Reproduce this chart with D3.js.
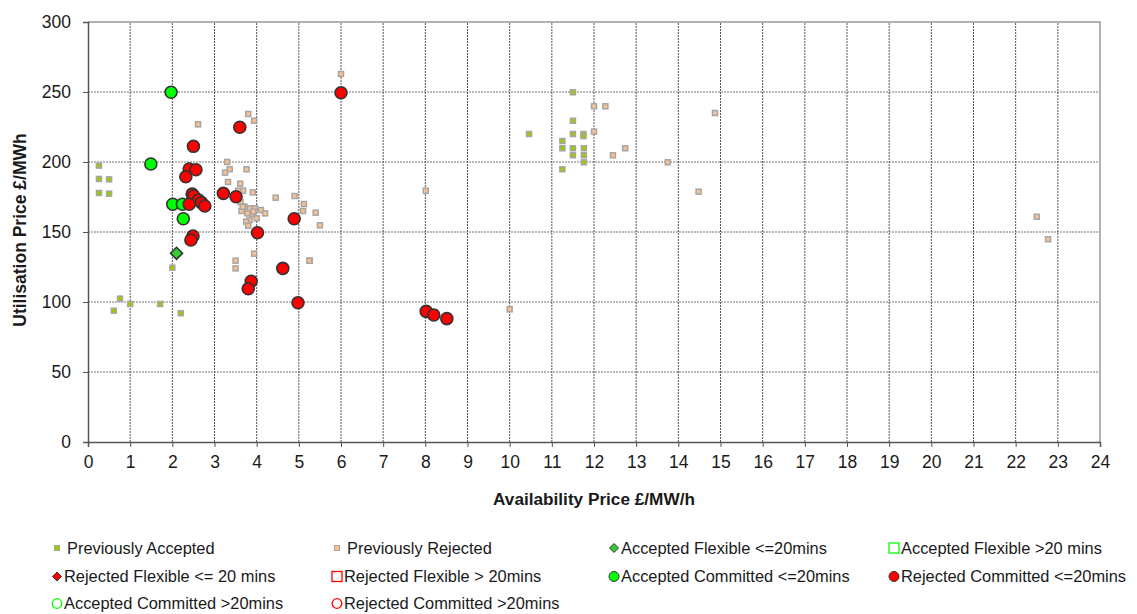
<!DOCTYPE html>
<html><head><meta charset="utf-8">
<script src="https://cdn.jsdelivr.net/npm/d3@7"></script>
<style>body{margin:0;background:#fff}svg{display:block;font-family:"Liberation Sans",Arial,sans-serif}</style>
</head><body><svg id="c" width="1137" height="614"></svg>
<script>
const xTicks = d3.range(0, 25, 1);
const yTicks = [0, 50, 100, 150, 200, 250, 300];
const xTitle = "Availability Price £/MW/h";
const yTitle = "Utilisation Price £/MWh";

const prevAccepted = [
  [0.26,197.4],[0.26,187.9],[0.5,187.6],[0.26,177.9],[0.5,177.4],
  [0.76,102.4],[1.0,98.6],[0.61,93.8],[1.71,98.6],[2.0,124.5],[2.2,92],
  [11.5,249.8],[10.46,220],[11.5,229.5],[11.5,220],[11.75,220],[11.75,218.5],
  [11.25,215],[11.25,209.8],[11.5,209.8],[11.76,209.8],[11.5,204.8],[11.76,204.8],
  [11.76,199.8],[11.25,194.8]
];
const prevRejected = [
  [12.0,239.8],[12.27,239.8],[12.0,221.7],[12.74,209.8],[12.45,204.8],[13.75,199.8],
  [14.48,178.8],[14.87,235],[22.5,160.9],[22.77,144.8],[8.01,179.5],[10.0,94.8],
  [6.0,262.9],[5.12,170],[5.1,165],[5.4,163.8],[5.5,154.8],[5.26,129.5],
  [2.61,226.9],[3.3,200],[3.8,234.3],[3.94,229.5],[3.36,194.8],[3.25,192.4],[3.76,194.8],
  [3.32,185.7],[3.61,184.5],[3.68,179.5],[3.91,178.3],[3.56,179.5],[4.45,174.5],[4.9,175.7],
  [3.62,171.2],[3.71,168.1],[3.84,166.9],[3.96,166.9],[4.1,165.7],[4.2,163.3],
  [3.64,165],[3.78,163.3],[3.9,162.9],[4.0,159.8],[3.83,158.6],[3.75,157.4],[3.8,154.5],
  [3.67,168.1],[3.92,164.5],[3.94,134.5],[3.5,129.5],[3.5,124],[5.25,129.5]
];
const acceptedFlexible = [[2.1,134.8]];
const acceptedCommitted = [[1.97,249.8],[1.49,198.6],[2.01,169.8],[2.24,169.8],[2.26,159.5]];
const rejectedCommitted = [
  [2.5,211.2],[2.4,195],[2.56,194.5],[2.32,189.5],[2.47,177.1],[2.51,175.7],[2.62,172.9],
  [2.69,171],[2.77,168.6],[2.4,169.8],[2.49,147.1],[2.44,144.3],[3.21,177.6],[3.51,175.2],
  [3.6,224.8],[4.02,149.5],[4.89,159.5],[4.62,124],[3.87,114.8],[3.8,109.5],[4.98,99.5],
  [6.0,249.5],[8.02,93.3],[8.2,90.7],[8.51,88.1]
];
const legendItems = [
  {label:"Previously Accepted", type:"sq", fill:"#99cc00"},
  {label:"Previously Rejected", type:"sq", fill:"#fac08f"},
  {label:"Accepted Flexible <=20mins", type:"dia", fill:"#33cc33"},
  {label:"Accepted Flexible >20 mins", type:"osq", stroke:"#00ff00"},
  {label:"Rejected Flexible <= 20 mins", type:"dia", fill:"#ff0000"},
  {label:"Rejected Flexible > 20mins", type:"osq", stroke:"#ff0000"},
  {label:"Accepted Committed <=20mins", type:"circ", fill:"#00ff00"},
  {label:"Rejected Committed <=20mins", type:"circ", fill:"#ff0000"},
  {label:"Accepted Committed >20mins", type:"ocirc", stroke:"#00ff00"},
  {label:"Rejected Committed >20mins", type:"ocirc", stroke:"#ff0000"}
];

const svg = d3.select("#c");
const x = d3.scaleLinear().domain([0,24]).range([88,1100]);
const y = d3.scaleLinear().domain([0,300]).range([442,22]);

// gridlines
svg.append("g").selectAll("line").data(yTicks.filter(d=>d>0&&d<300)).join("line")
  .attr("x1",x(0)).attr("x2",x(24)).attr("y1",d=>y(d)).attr("y2",d=>y(d))
  .attr("stroke","#777").attr("stroke-width",1).attr("stroke-dasharray","2,1");
svg.append("g").selectAll("line").data(xTicks.filter(d=>d>0&&d<24)).join("line")
  .attr("y1",y(0)).attr("y2",y(300)).attr("x1",d=>x(d)).attr("x2",d=>x(d))
  .attr("stroke","#555").attr("stroke-width",1).attr("stroke-dasharray","2,1");
// frame top/right
svg.append("path").attr("d",`M${x(0)},${y(300)}H${x(24)}V${y(0)}`)
  .attr("fill","none").attr("stroke","#999").attr("stroke-width",1.5);

// axes
const xAxis = svg.append("g").attr("transform",`translate(0,${y(0)})`)
  .call(d3.axisBottom(x).tickValues(xTicks).tickFormat(d3.format("d")).tickSize(5).tickPadding(9));
const yAxis = svg.append("g").attr("transform",`translate(${x(0)},0)`)
  .call(d3.axisLeft(y).tickValues(yTicks).tickSize(5).tickPadding(12));
[xAxis,yAxis].forEach(a=>{
  a.select(".domain").attr("stroke","#555").attr("stroke-width",1.5);
  a.selectAll(".tick line").attr("stroke","#555");
  a.selectAll("text").attr("font-size",17.5).attr("fill","#1a1a1a").attr("font-family","Liberation Sans, Arial");
});

// titles
svg.append("text").attr("x",(x(0)+x(24))/2).attr("y",505).attr("text-anchor","middle")
  .attr("font-weight","bold").attr("font-size",17.2).attr("fill","#1a1a1a").text(xTitle);
svg.append("text").attr("transform",`translate(26,${(y(0)+y(300))/2 - 2}) rotate(-90)`)
  .attr("text-anchor","middle").attr("font-weight","bold").attr("font-size",17.5).attr("fill","#1a1a1a").text(yTitle);

// marks
const sq = 5;
svg.append("g").selectAll("rect").data(prevAccepted).join("rect")
  .attr("x",d=>x(d[0])-sq/2).attr("y",d=>y(d[1])-sq/2).attr("width",sq).attr("height",sq)
  .attr("fill","#99cc00").attr("stroke","#a6a6a6").attr("stroke-width",1.5);
svg.append("g").selectAll("rect").data(prevRejected).join("rect")
  .attr("x",d=>x(d[0])-sq/2).attr("y",d=>y(d[1])-sq/2).attr("width",sq).attr("height",sq)
  .attr("fill","#fac08f").attr("stroke","#a6a6a6").attr("stroke-width",1.5);
svg.append("g").selectAll("circle").data(acceptedCommitted).join("circle")
  .attr("cx",d=>x(d[0])).attr("cy",d=>y(d[1])).attr("r",6)
  .attr("fill","#00ff00").attr("stroke","#333").attr("stroke-width",1.6);
svg.append("g").selectAll("circle").data(rejectedCommitted).join("circle")
  .attr("cx",d=>x(d[0])).attr("cy",d=>y(d[1])).attr("r",6)
  .attr("fill","#ff0000").attr("stroke","#333").attr("stroke-width",1.6);
const dia = (cx,cy,h)=>`M${cx},${cy-h}L${cx+h},${cy}L${cx},${cy+h}L${cx-h},${cy}Z`;
svg.append("g").selectAll("path").data(acceptedFlexible).join("path")
  .attr("d",d=>dia(x(d[0]),y(d[1]),6)).attr("fill","#33cc33").attr("stroke","#333").attr("stroke-width",1.6);

// legend
const colX = [57,337,614,894], rowY = [548,576.5,603.5];
const lg = svg.append("g");
legendItems.forEach((it,i)=>{
  const cx = colX[i%4], cy = rowY[Math.floor(i/4)];
  const g = lg.append("g");
  if(it.type==="sq") g.append("rect").attr("x",cx-2.5).attr("y",cy-2.5).attr("width",5).attr("height",5)
      .attr("fill",it.fill).attr("stroke","#a6a6a6").attr("stroke-width",1);
  if(it.type==="dia") g.append("path").attr("d",dia(cx,cy,4.5)).attr("fill",it.fill).attr("stroke","#333").attr("stroke-width",1);
  if(it.type==="osq") g.append("rect").attr("x",cx-5).attr("y",cy-5).attr("width",10).attr("height",10)
      .attr("fill","none").attr("stroke",it.stroke).attr("stroke-width",1.3);
  if(it.type==="circ") g.append("circle").attr("cx",cx).attr("cy",cy).attr("r",5)
      .attr("fill",it.fill).attr("stroke","#333").attr("stroke-width",1);
  if(it.type==="ocirc") g.append("circle").attr("cx",cx).attr("cy",cy).attr("r",4.8)
      .attr("fill","none").attr("stroke",it.stroke).attr("stroke-width",1.3);
  g.append("text").attr("x",cx+ (it.type==="sq"?10:7)).attr("y",cy).attr("dy","0.35em")
    .attr("font-size",16.4).attr("fill","#1a1a1a").text(it.label);
});
</script></body></html>
